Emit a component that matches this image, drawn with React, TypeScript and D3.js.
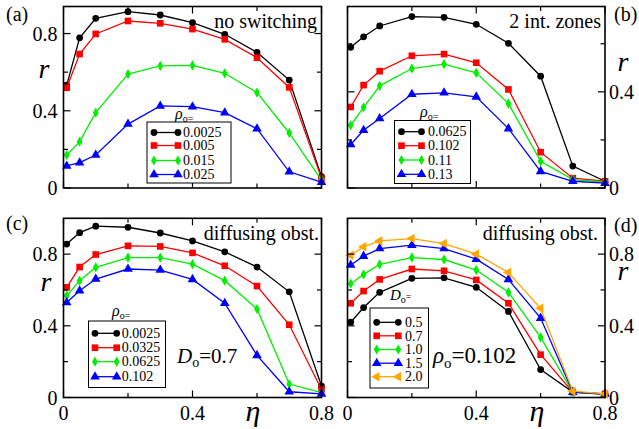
import React from 'react';
import * as d3 from 'd3';

const ETA = [0.01, 0.05, 0.1, 0.2, 0.3, 0.4, 0.5, 0.6, 0.7, 0.8];

// Panel (a): no switching
const A_LABELS = ['0.0025', '0.005', '0.015', '0.025'];
const A_S1 = [0.533, 0.778, 0.879, 0.913, 0.896, 0.856, 0.796, 0.703, 0.559, 0.059];
const A_S2 = [0.519, 0.694, 0.798, 0.865, 0.853, 0.823, 0.77, 0.675, 0.521, 0.05];
const A_S3 = [0.171, 0.24, 0.39, 0.59, 0.632, 0.635, 0.594, 0.494, 0.285, 0.041];
const A_S4 = [0.114, 0.131, 0.171, 0.331, 0.425, 0.421, 0.39, 0.307, 0.084, 0.03];

// Panel (b): 2 int. zones
const B_LABELS = ['0.0625', '0.102', '0.11', '0.13'];
const B_S1 = [0.585, 0.629, 0.674, 0.713, 0.71, 0.681, 0.602, 0.465, 0.091, 0.028];
const B_S2 = [0.337, 0.428, 0.486, 0.55, 0.557, 0.521, 0.41, 0.149, 0.041, 0.028];
const B_S3 = [0.261, 0.335, 0.425, 0.497, 0.515, 0.479, 0.351, 0.111, 0.035, 0.025];
const B_S4 = [0.181, 0.24, 0.289, 0.39, 0.396, 0.379, 0.247, 0.069, 0.028, 0.02];

// Panel (c): diffusing obst., D_o = 0.7
const C_LABELS = ['0.0025', '0.0325', '0.0625', '0.102'];
const C_S1 = [0.856, 0.92, 0.956, 0.95, 0.918, 0.874, 0.813, 0.728, 0.59, 0.064];
const C_S2 = [0.615, 0.728, 0.798, 0.846, 0.843, 0.807, 0.735, 0.622, 0.406, 0.045];
const C_S3 = [0.568, 0.652, 0.726, 0.781, 0.781, 0.744, 0.652, 0.494, 0.075, 0.027];
const C_S4 = [0.53, 0.596, 0.661, 0.717, 0.711, 0.659, 0.526, 0.235, 0.032, 0.02];

// Panel (d): diffusing obst., rho_o = 0.102
const D_LABELS = ['0.5', '0.7', '1.0', '1.5', '2.0'];
const D_S1 = [0.42, 0.502, 0.587, 0.665, 0.668, 0.615, 0.48, 0.156, 0.03, 0.017];
const D_S2 = [0.526, 0.594, 0.659, 0.717, 0.707, 0.656, 0.526, 0.239, 0.03, 0.02];
const D_S3 = [0.635, 0.687, 0.743, 0.781, 0.77, 0.711, 0.587, 0.335, 0.03, 0.02];
const D_S4 = [0.739, 0.789, 0.831, 0.85, 0.831, 0.772, 0.659, 0.443, 0.03, 0.02];
const D_S5 = [0.794, 0.841, 0.874, 0.887, 0.859, 0.8, 0.698, 0.498, 0.035, 0.02];

const X_TICKS = [0, 0.4, 0.8];
const X_MINOR = [0.2, 0.6];
const Y_TICKS = [0, 0.4, 0.8];
const Y_MINOR = [0.2, 0.6];

const COLORS = ['#000000', '#ff0000', '#00ee00', '#0000ff', '#ffa500'];
const SYMBOLS = ['circle', 'square', 'diamond', 'triangle', 'triLeft'];

const F = { fontFamily: '"Liberation Serif"' };

function Marker({ kind, x, y, color }: { kind: string; x: number; y: number; color: string }) {
  let type: any = d3.symbolCircle;
  let size = 36;
  let rot = 0;
  if (kind === 'square') { type = d3.symbolSquare; size = 44; }
  if (kind === 'diamond') { type = d3.symbolDiamond; size = 30; }
  if (kind === 'triangle') { type = d3.symbolTriangle; size = 40; }
  if (kind === 'triLeft') { type = d3.symbolTriangle; size = 40; rot = -90; }
  const p = d3.symbol().type(type).size(size)() as string;
  return <path d={p} transform={`translate(${x},${y}) rotate(${rot})`} fill={color} stroke="none" />;
}

type PanelProps = {
  x0: number; x1: number; y0: number; y1: number; yMax: number;
  series: number[][];
  yAxisSide: 'left' | 'right';
  showX: boolean;
};

function Panel({ x0, x1, y0, y1, yMax, series, yAxisSide, showX }: PanelProps) {
  const xs = d3.scaleLinear().domain([0, 0.8]).range([x0, x1]);
  const ys = d3.scaleLinear().domain([0, yMax]).range([y1, y0]);
  const line = d3.line<number>().x((_, i) => xs(ETA[i])).y((d) => ys(d));
  const MAJ = 7, MIN = 4.5;
  const yt = Y_TICKS.filter((t) => t <= yMax);
  const ym = Y_MINOR.filter((t) => t <= yMax);
  return (
    <g>
      {series.map((s, k) => (
        <g key={k}>
          <path d={line(s) as string} fill="none" stroke={COLORS[k]} strokeWidth={1.3} />
          {s.map((v, i) => (
            <Marker key={i} kind={SYMBOLS[k]} x={xs(ETA[i])} y={ys(v)} color={COLORS[k]} />
          ))}
        </g>
      ))}
      <rect x={x0} y={y0} width={x1 - x0} height={y1 - y0} fill="none" stroke="#000" strokeWidth={1.6} />
      {X_TICKS.map((t) => (
        <g key={'xt' + t}>
          <line x1={xs(t)} x2={xs(t)} y1={y1} y2={y1 - MAJ} stroke="#000" strokeWidth={1.2} />
          <line x1={xs(t)} x2={xs(t)} y1={y0} y2={y0 + MAJ} stroke="#000" strokeWidth={1.2} />
        </g>
      ))}
      {X_MINOR.map((t) => (
        <g key={'xm' + t}>
          <line x1={xs(t)} x2={xs(t)} y1={y1} y2={y1 - MIN} stroke="#000" strokeWidth={1.2} />
          <line x1={xs(t)} x2={xs(t)} y1={y0} y2={y0 + MIN} stroke="#000" strokeWidth={1.2} />
        </g>
      ))}
      {yt.map((t) => (
        <g key={'yt' + t}>
          <line x1={x0} x2={x0 + MAJ} y1={ys(t)} y2={ys(t)} stroke="#000" strokeWidth={1.2} />
          <line x1={x1} x2={x1 - MAJ} y1={ys(t)} y2={ys(t)} stroke="#000" strokeWidth={1.2} />
        </g>
      ))}
      {ym.map((t) => (
        <g key={'ym' + t}>
          <line x1={x0} x2={x0 + MIN} y1={ys(t)} y2={ys(t)} stroke="#000" strokeWidth={1.2} />
          <line x1={x1} x2={x1 - MIN} y1={ys(t)} y2={ys(t)} stroke="#000" strokeWidth={1.2} />
        </g>
      ))}
      {yt.map((t) => (
        <text key={'yl' + t}
          x={yAxisSide === 'left' ? x0 - 6 : x1 + 4}
          y={ys(t) + 7}
          textAnchor={yAxisSide === 'left' ? 'end' : 'start'}
          fontSize={20} style={F}>
          {String(t)}
        </text>
      ))}
      {showX && X_TICKS.map((t) => (
        <text key={'xl' + t} x={xs(t)} y={y1 + 22.5} textAnchor="middle" fontSize={20} style={F}>
          {String(t)}
        </text>
      ))}
    </g>
  );
}

function Legend({ x, y, w, h, rowY, labels, sx0, sx1, tx, fontSize }:
  { x: number; y: number; w: number; h: number; rowY: number[]; labels: string[]; sx0: number; sx1: number; tx: number; fontSize: number }) {
  return (
    <g>
      <rect x={x} y={y} width={w} height={h} fill="#fff" stroke="#000" strokeWidth={1} />
      {labels.map((lab, k) => (
        <g key={k}>
          <line x1={sx0} x2={sx1} y1={rowY[k]} y2={rowY[k]} stroke={COLORS[k]} strokeWidth={1.3} />
          <Marker kind={SYMBOLS[k]} x={sx0} y={rowY[k]} color={COLORS[k]} />
          <Marker kind={SYMBOLS[k]} x={sx1} y={rowY[k]} color={COLORS[k]} />
          <text x={tx} y={rowY[k] + fontSize * 0.34} fontSize={fontSize} style={F}>{lab}</text>
        </g>
      ))}
    </g>
  );
}

function RhoTitle({ x, y }: { x: number; y: number }) {
  return (
    <text x={x} y={y} fontSize={16} style={F}>
      <tspan fontStyle="italic">ρ</tspan>
      <tspan fontSize={10} dy={3}>o=</tspan>
    </text>
  );
}

export default function App() {
  const L0 = 63.5, L1 = 321.5, R0 = 347.5, R1 = 605;
  const T0 = 6.5, T1 = 188, B0 = 218.3, B1 = 397.5;
  return (
    <svg width={639} height={429} style={{ position: 'absolute', left: 0, top: 0, background: '#fff' }}>
      <rect x={0} y={0} width={639} height={429} fill="#fff" />
      {/* (a) */}
      <Panel x0={L0} x1={L1} y0={T0} y1={T1} yMax={0.94} series={[A_S1, A_S2, A_S3, A_S4]} yAxisSide="left" showX={false} />
      {/* (b) */}
      <Panel x0={R0} x1={R1} y0={T0} y1={T1} yMax={0.755} series={[B_S1, B_S2, B_S3, B_S4]} yAxisSide="right" showX={false} />
      {/* (c) */}
      <Panel x0={L0} x1={L1} y0={B0} y1={B1} yMax={1.0} series={[C_S1, C_S2, C_S3, C_S4]} yAxisSide="left" showX={true} />
      {/* (d) */}
      <Panel x0={R0} x1={R1} y0={B0} y1={B1} yMax={1.0} series={[D_S1, D_S2, D_S3, D_S4, D_S5]} yAxisSide="right" showX={true} />

      {/* legends */}
      <RhoTitle x={175} y={119} />
      <Legend x={147} y={122} w={84} h={61} rowY={[132.5, 145.5, 160.5, 174.5]} labels={A_LABELS} sx0={154} sx1={178} tx={183} fontSize={14} />

      <RhoTitle x={420} y={117} />
      <Legend x={394.5} y={120.5} w={76} h={63} rowY={[131.7, 145.7, 160, 174.3]} labels={B_LABELS} sx0={401.5} sx1={421.5} tx={428} fontSize={14} />

      <RhoTitle x={112} y={316} />
      <Legend x={88.5} y={321} w={77} h={66.5} rowY={[333.3, 347.7, 361.7, 376.7]} labels={C_LABELS} sx0={95} sx1={116.7} tx={121.7} fontSize={14} />

      <text x={390} y={300} fontSize={15} style={F}>
        <tspan fontStyle="italic">D</tspan>
        <tspan fontSize={10} dy={3}>o</tspan>
        <tspan fontSize={10} dy={-3}>=</tspan>
      </text>
      <Legend x={370} y={308} w={58.5} h={80} rowY={[322.3, 335.8, 349.5, 363.2, 376.7]} labels={D_LABELS} sx0={376.7} sx1={398.3} tx={405} fontSize={14} />

      {/* annotations */}
      <text x={317} y={28} textAnchor="end" fontSize={20} style={F}>no switching</text>
      <text x={601} y={28} textAnchor="end" fontSize={20} style={F}>2 int. zones</text>
      <text x={319} y={240} textAnchor="end" fontSize={20} style={F}>diffusing obst.</text>
      <text x={598} y={240} textAnchor="end" fontSize={20} style={F}>diffusing obst.</text>

      <text x={177} y={363} fontSize={21} style={F}>
        <tspan fontStyle="italic">D</tspan>
        <tspan fontSize={14} dy={4}>o</tspan>
        <tspan dy={-4}>=0.7</tspan>
      </text>
      <text x={433} y={363} fontSize={23} style={F}>
        <tspan fontStyle="italic">ρ</tspan>
        <tspan fontSize={15} dy={5}>o</tspan>
        <tspan dy={-5}>=0.102</tspan>
      </text>

      {/* panel letters */}
      <text x={6} y={21} fontSize={20} style={F}>(a)</text>
      <text x={614} y={21} fontSize={20} style={F}>(b)</text>
      <text x={6} y={230} fontSize={20} style={F}>(c)</text>
      <text x={614} y={232} fontSize={20} style={F}>(d)</text>

      {/* axis labels */}
      <text x={44} y={78} textAnchor="middle" fontSize={28} fontStyle="italic" style={F}>r</text>
      <text x={623} y={71} textAnchor="middle" fontSize={28} fontStyle="italic" style={F}>r</text>
      <text x={46} y={291} textAnchor="middle" fontSize={28} fontStyle="italic" style={F}>r</text>
      <text x={623} y={280} textAnchor="middle" fontSize={28} fontStyle="italic" style={F}>r</text>
      <text x={253} y={421} textAnchor="middle" fontSize={30} fontStyle="italic" style={F}>η</text>
      <text x={537} y={421} textAnchor="middle" fontSize={30} fontStyle="italic" style={F}>η</text>
    </svg>
  );
}
